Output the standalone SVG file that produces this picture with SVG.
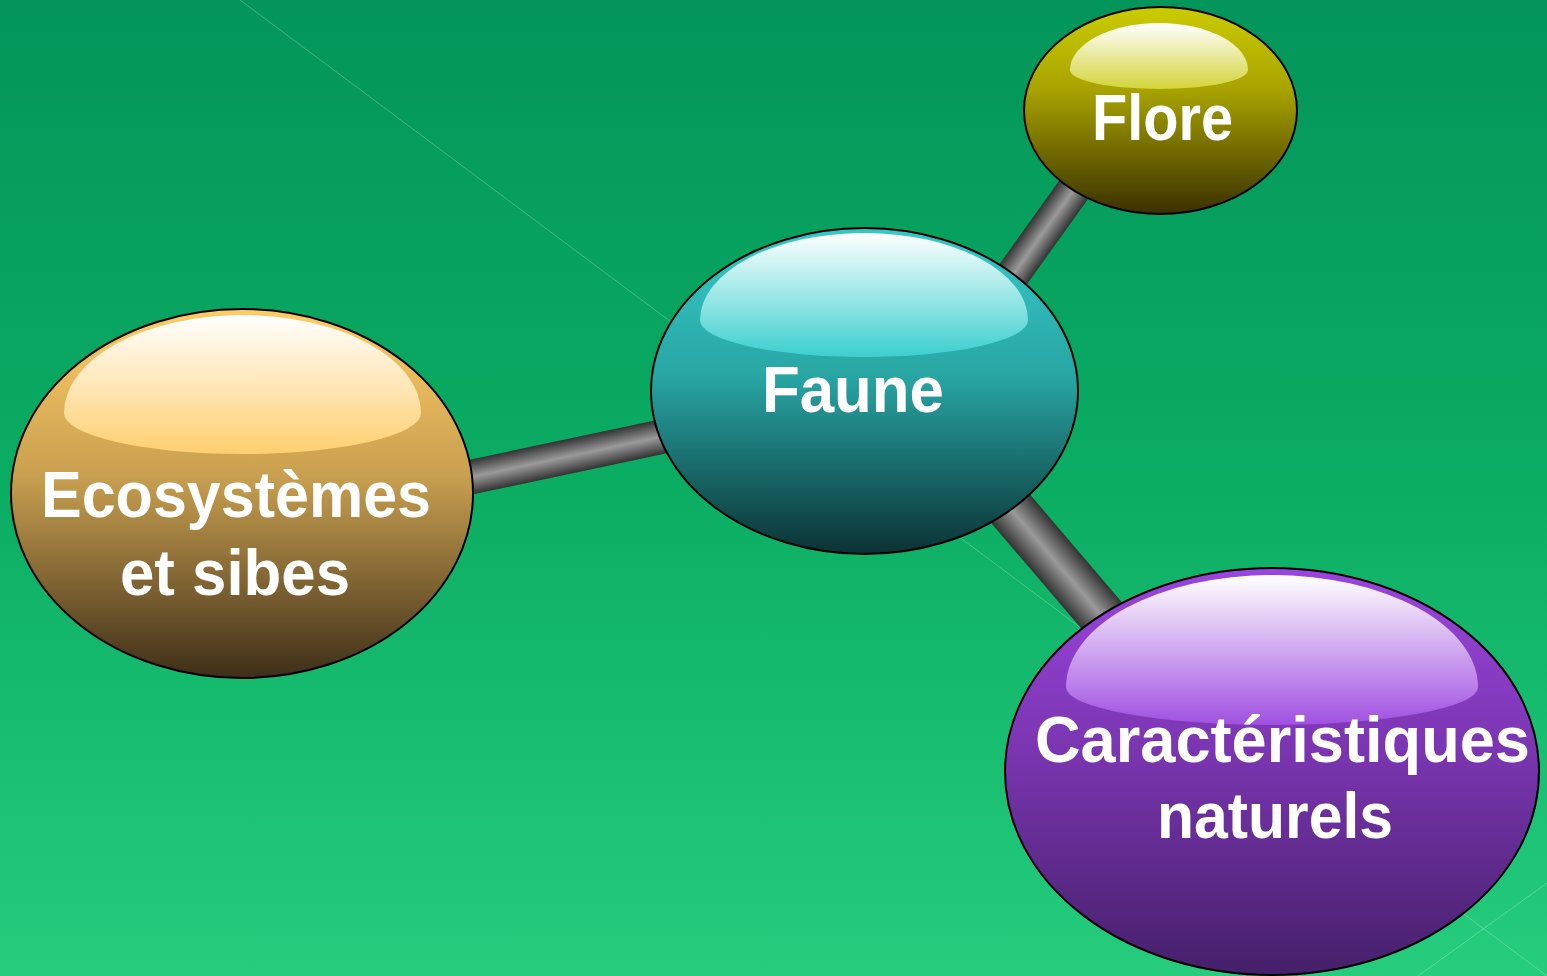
<svg xmlns="http://www.w3.org/2000/svg" width="1547" height="976" viewBox="0 0 1547 976">
  <defs>
    <linearGradient id="bg" x1="0" y1="0" x2="0" y2="1">
      <stop offset="0" stop-color="#03955a"/>
      <stop offset="0.5" stop-color="#0bad63"/>
      <stop offset="1" stop-color="#26cd7d"/>
    </linearGradient>
    <linearGradient id="bar" x1="0" y1="0" x2="0" y2="1">
      <stop offset="0" stop-color="#333333"/>
      <stop offset="0.5" stop-color="#9a9a9a"/>
      <stop offset="1" stop-color="#333333"/>
    </linearGradient>
    <linearGradient id="gFaune" x1="0" y1="0" x2="0" y2="1">
      <stop offset="0" stop-color="#36c8c8"/>
      <stop offset="0.45" stop-color="#28a6a4"/>
      <stop offset="1" stop-color="#0b3234"/>
    </linearGradient>
    <linearGradient id="hFaune" x1="0" y1="0" x2="0" y2="1">
      <stop offset="0" stop-color="#ffffff"/>
      <stop offset="1" stop-color="#3ccfcf"/>
    </linearGradient>
    <linearGradient id="gFlore" x1="0" y1="0" x2="0" y2="1">
      <stop offset="0" stop-color="#cccc00"/>
      <stop offset="0.4" stop-color="#a8a300"/>
      <stop offset="1" stop-color="#3a3000"/>
    </linearGradient>
    <linearGradient id="hFlore" x1="0" y1="0" x2="0" y2="1">
      <stop offset="0" stop-color="#ffffff"/>
      <stop offset="1" stop-color="#d4d43a"/>
    </linearGradient>
    <linearGradient id="gEco" x1="0" y1="0" x2="0" y2="1">
      <stop offset="0" stop-color="#ffcc66"/>
      <stop offset="0.45" stop-color="#c9a050"/>
      <stop offset="1" stop-color="#3e2e18"/>
    </linearGradient>
    <linearGradient id="hEco" x1="0" y1="0" x2="0" y2="1">
      <stop offset="0" stop-color="#ffffff"/>
      <stop offset="1" stop-color="#ffcf70"/>
    </linearGradient>
    <linearGradient id="gCar" x1="0" y1="0" x2="0" y2="1">
      <stop offset="0" stop-color="#9a45dc"/>
      <stop offset="0.45" stop-color="#7a35b0"/>
      <stop offset="1" stop-color="#45206a"/>
    </linearGradient>
    <linearGradient id="hCar" x1="0" y1="0" x2="0" y2="1">
      <stop offset="0" stop-color="#ffffff"/>
      <stop offset="1" stop-color="#a050e0"/>
    </linearGradient>
  </defs>
  <style>
    .node { stroke: #000000; stroke-width: 2; }
    .lbl { font-family: "Liberation Sans", Arial, sans-serif; font-weight: bold; font-size: 65px; fill: #ffffff; }
    .deco { stroke: #ffffff; stroke-opacity: 0.25; stroke-width: 1; fill: none; }
  </style>

  <rect x="0" y="0" width="1547" height="976" fill="url(#bg)"/>
  <g id="background-lines">
    <line class="deco" x1="240" y1="0" x2="1547" y2="976"/>
    <line class="deco" x1="1418" y1="976" x2="1547" y2="883"/>
  </g>

  <g id="connectors">
    <g transform="translate(420,487.9) rotate(-11.97)">
      <rect x="0" y="-17.25" width="286" height="34.5" fill="url(#bar)"/>
    </g>
    <g transform="translate(979,322) rotate(-54.4)">
      <rect x="0" y="-17" width="210" height="34" fill="url(#bar)"/>
    </g>
    <g transform="translate(946,433) rotate(49.54)">
      <rect x="0" y="-24" width="300" height="48" fill="url(#bar)"/>
    </g>
  </g>

  <g id="node-faune">
    <ellipse class="node" cx="864.5" cy="391" rx="213.5" ry="163" fill="url(#gFaune)"/>
    <path d="M700,320 A164,87 0 0 1 1028,320 A164,37 0 0 1 700,320 Z" fill="url(#hFaune)"/>
    <text class="lbl" x="762" y="412" textLength="182" lengthAdjust="spacingAndGlyphs">Faune</text>
  </g>

  <g id="node-flore">
    <ellipse class="node" cx="1160.5" cy="110.5" rx="136.5" ry="103.5" fill="url(#gFlore)"/>
    <path d="M1070,70 A89,47 0 0 1 1248,70 A89,19 0 0 1 1070,70 Z" fill="url(#hFlore)"/>
    <text class="lbl" x="1092" y="140" textLength="141" lengthAdjust="spacingAndGlyphs">Flore</text>
  </g>

  <g id="node-ecosystemes">
    <ellipse class="node" cx="242" cy="493.5" rx="231" ry="184.5" fill="url(#gEco)"/>
    <path d="M64,413 A178.5,98 0 0 1 421,413 A178.5,41 0 0 1 64,413 Z" fill="url(#hEco)"/>
    <text class="lbl" x="41" y="517" textLength="390" lengthAdjust="spacingAndGlyphs">Ecosystèmes</text>
    <text class="lbl" x="120" y="595" textLength="230" lengthAdjust="spacingAndGlyphs">et sibes</text>
  </g>

  <g id="node-caracteristiques">
    <ellipse class="node" cx="1272" cy="771.5" rx="267" ry="203.5" fill="url(#gCar)"/>
    <path d="M1066,687 A206,112 0 0 1 1478,687 A206,38 0 0 1 1066,687 Z" fill="url(#hCar)"/>
    <text class="lbl" x="1035" y="762" textLength="495" lengthAdjust="spacingAndGlyphs">Caractéristiques</text>
    <text class="lbl" x="1157" y="838" textLength="236" lengthAdjust="spacingAndGlyphs">naturels</text>
  </g>
</svg>
